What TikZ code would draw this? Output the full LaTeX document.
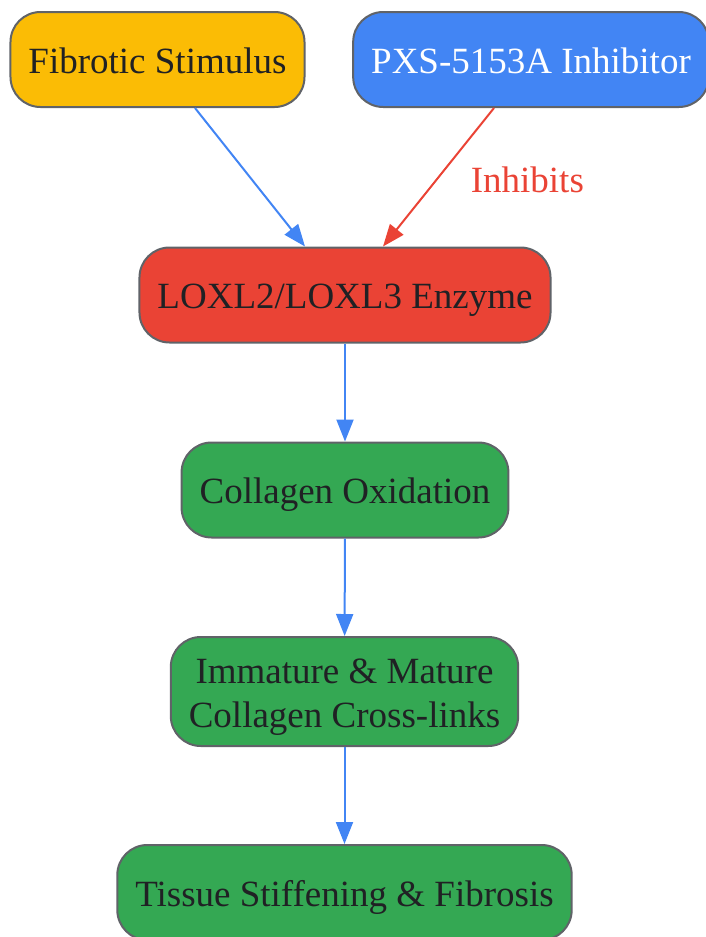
\documentclass[tikz,border=0pt]{standalone}
\usepackage{fontspec}
\setmainfont{Liberation Serif}
\usepackage{tikz}
\usetikzlibrary{arrows.meta}
\definecolor{gyellow}{HTML}{FBBC05}
\definecolor{gblue}{HTML}{4285F4}
\definecolor{gred}{HTML}{EA4335}
\definecolor{ggreen}{HTML}{34A853}
\definecolor{gborder}{HTML}{606368}
\definecolor{gtext}{HTML}{202124}

\begin{document}
\begin{tikzpicture}[x=1pt,y=-1pt,
  box/.style={draw=gborder,line width=2pt,rounded corners=30pt,text=gtext,
    minimum height=95pt,inner xsep=18pt,inner ysep=19pt,align=center,
    text height=27pt,text depth=0pt,font=\fontsize{37}{44}\selectfont},
  flow/.style={line width=2pt,-{Triangle[length=22pt,width=17pt]}}]
\useasboundingbox (0,0) rectangle (705,937);

\node[box,fill=gyellow] (stim) at (157.5,59.5) {Fibrotic Stimulus};
\node[box,fill=gblue,text=white] (pxs) at (531,59.5) {PXS-5153A Inhibitor};
\node[box,fill=gred] (lox) at (345,295) {LOXL2/LOXL3 Enzyme};
\node[box,fill=ggreen] (oxid) at (345,490) {Collagen Oxidation};
\node[box,fill=ggreen,text height=71pt] (xlink) at (344.5,691.5) {Immature \& Mature\\Collagen Cross-links};
\node[box,fill=ggreen] (fibro) at (344.5,892.5) {Tissue Stiffening \& Fibrosis};

\draw[flow,gblue] ([xshift=37.5pt]stim.south) -- ([xshift=-40pt]lox.north);
\draw[flow,gred] ([xshift=-37pt]pxs.south) -- node[midway,right=28pt,yshift=-2pt,text=gred,
  text height=27pt,text depth=0pt,font=\fontsize{37}{44}\selectfont] {Inhibits} ([xshift=38pt]lox.north);
\draw[flow,gblue] (lox) -- (oxid);
\draw[flow,gblue] (oxid) -- (xlink);
\draw[flow,gblue] (xlink) -- (fibro);
\end{tikzpicture}
\end{document}
